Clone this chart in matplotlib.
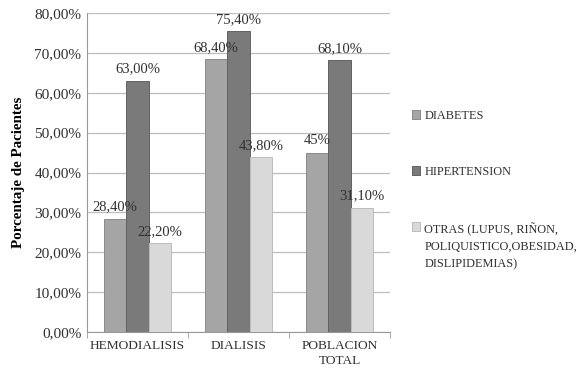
import numpy as np
import matplotlib
matplotlib.use("Agg")
import matplotlib.pyplot as plt
from matplotlib.ticker import FuncFormatter

categorias = ["HEMODIALISIS", "DIALISIS", "POBLACION\nTOTAL"]
diabetes = [28.4, 68.4, 45.0]
hipertension = [63.0, 75.4, 68.1]
otras = [22.2, 43.8, 31.1]
etiq_diabetes = ["28,40%", "68,40%", "45%"]
etiq_hipertension = ["63,00%", "75,40%", "68,10%"]
etiq_otras = ["22,20%", "43,80%", "31,10%"]
series = ["DIABETES", "HIPERTENSION",
          "OTRAS (LUPUS, RIÑON,\nPOLIQUISTICO,OBESIDAD,\nDISLIPIDEMIAS)"]

plt.rcParams["font.family"] = ["Liberation Serif", "DejaVu Serif"]

fig = plt.figure(figsize=(5.84, 3.73), dpi=100)
ax = fig.add_axes([0.149, 0.110, 0.519, 0.855])

x = np.arange(len(categorias))
w = 0.223
estilos = [("#a5a5a5", "#8a8a8a"), ("#7a7a7a", "#626262"), ("#d9d9d9", "#bcbcbc")]
datos = [diabetes, hipertension, otras]
etiquetas = [etiq_diabetes, etiq_hipertension, etiq_otras]

for i, (vals, labs, (fc, ec), nombre) in enumerate(zip(datos, etiquetas, estilos, series)):
    barras = ax.bar(x + (i - 1) * w, vals, w, color=fc, edgecolor=ec,
                    linewidth=0.7, label=nombre, zorder=3)
    for b, t in zip(barras, labs):
        ax.annotate(t, (b.get_x() + b.get_width() / 2, b.get_height()),
                    xytext=(0, 4), textcoords="offset points",
                    ha="center", va="bottom", fontsize=10.5, color="#303030", zorder=4)

ax.set_xlim(-0.5, 2.5)
ax.set_ylim(0, 80)
ax.set_yticks(np.arange(0, 81, 10))
ax.yaxis.set_major_formatter(FuncFormatter(lambda v, p: f"{v:.2f}%".replace(".", ",")))
ax.set_xticks(x)
ax.set_xticklabels(categorias, fontsize=9.6, color="#303030", linespacing=1.35)
ax.set_xticks([-0.5, 0.5, 1.5, 2.5], minor=True)
ax.tick_params(axis="x", which="major", length=0, pad=6)
ax.tick_params(axis="x", which="minor", length=4, color="#999999")
ax.tick_params(axis="y", length=0, labelsize=11, labelcolor="#303030", pad=4)
ax.grid(axis="y", color="#bdbdbd", linewidth=0.9, zorder=0)
for s in ["top", "right"]:
    ax.spines[s].set_visible(False)
for s in ["left", "bottom"]:
    ax.spines[s].set_color("#999999")
ax.set_ylabel("Porcentaje de Pacientes", fontsize=10.8, fontweight="bold", labelpad=7)

leg = fig.legend(loc="upper left", bbox_to_anchor=(0.697, 0.717), frameon=False,
                 fontsize=8.8, handlelength=0.7, handleheight=0.7, handletextpad=0.3,
                 labelspacing=3.6, borderaxespad=0)
for t in leg.get_texts():
    t.set_color("#303030")
    t.set_linespacing(1.55)
# square next to the first line of the multi-line entry
for col in leg._legend_handle_box.get_children():
    for fila in col.get_children():
        fila.align = "top"

fig.savefig("out.png", dpi=100)
